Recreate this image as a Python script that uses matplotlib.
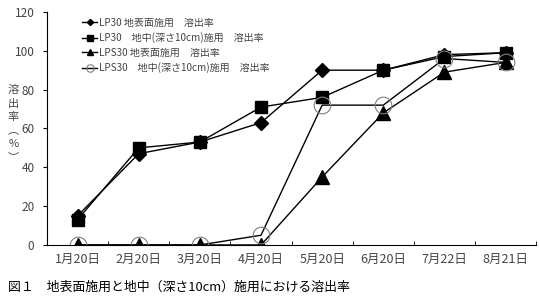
import matplotlib
matplotlib.use("Agg")
import matplotlib.pyplot as plt

plt.rcParams['font.family'] = ['Noto Sans CJK JP', 'DejaVu Sans']

dates = ["1月20日", "2月20日", "3月20日", "4月20日", "5月20日", "6月20日", "7月22日", "8月21日"]
lp30_surface = [15, 47, 53, 63, 90, 90, 98, 99]
lp30_under = [13, 50, 53, 71, 76, 90, 97, 99]
lps30_surface = [0, 0, 0, 0, 35, 68, 89, 94]
lps30_under = [0, 0, 0, 5, 72, 72, 96, 94]

labels = ["LP30 地表面施用　溶出率",
          "LP30　地中(深さ10cm)施用　溶出率",
          "LPS30 地表面施用　溶出率",
          "LPS30　地中(深さ10cm)施用　溶出率"]
ylabel_chars = ["溶", "出", "率", "︵", "%", "︶"]

fig = plt.figure(figsize=(5.4, 2.98), dpi=100)
ax = fig.add_axes([0.087, 0.178, 0.906, 0.782])

x = range(len(dates))
ax.plot(x, lp30_surface, 'kD-', lw=1, ms=7, label=labels[0])
ax.plot(x, lp30_under, 'ks-', lw=1, ms=9, label=labels[1])
ax.plot(x, lps30_surface, 'k^-', lw=1, ms=10, label=labels[2])
ax.plot(x, lps30_under, 'o-', color='black', lw=1, ms=12, mfc='none', mec='#808080', mew=0.8,
        label=labels[3])

ax.set_xlim(-0.5, len(dates) - 0.5)
ax.set_ylim(0, 120)
ax.set_yticks(range(0, 121, 20))
ax.set_xticks(x)
ax.set_xticklabels(dates, fontsize=9, color='#444444')
ax.set_xticks([i + 0.5 for i in range(len(dates))], minor=True)
ax.tick_params(axis='x', which='major', length=0, pad=6)
ax.tick_params(axis='x', which='minor', direction='in', length=3)
ax.tick_params(axis='y', direction='out', length=3, labelsize=8.5, labelcolor='#444444', pad=6)
ax.spines['top'].set_visible(False)
ax.spines['right'].set_visible(False)

# vertical y-axis label, characters stacked upright
y0 = 90
for i, ch in enumerate(ylabel_chars):
    fig.text(0.025, 1 - (y0 + i * 13.5) / 298, ch, va='center', ha='center', fontsize=8,
             color='#444444')

leg = ax.legend(loc='upper left', bbox_to_anchor=(0.06, 1.0), frameon=False, fontsize=7.2,
                handlelength=1.5, handletextpad=0.2, markerscale=0.45, labelspacing=0.45,
                borderaxespad=0.2)
for t in leg.get_texts():
    t.set_color('#444444')

fig.text(0.015, 0.025, "図１　地表面施用と地中（深さ10cm）施用における溶出率", fontsize=9.3)

fig.savefig("out.png", dpi=100)
